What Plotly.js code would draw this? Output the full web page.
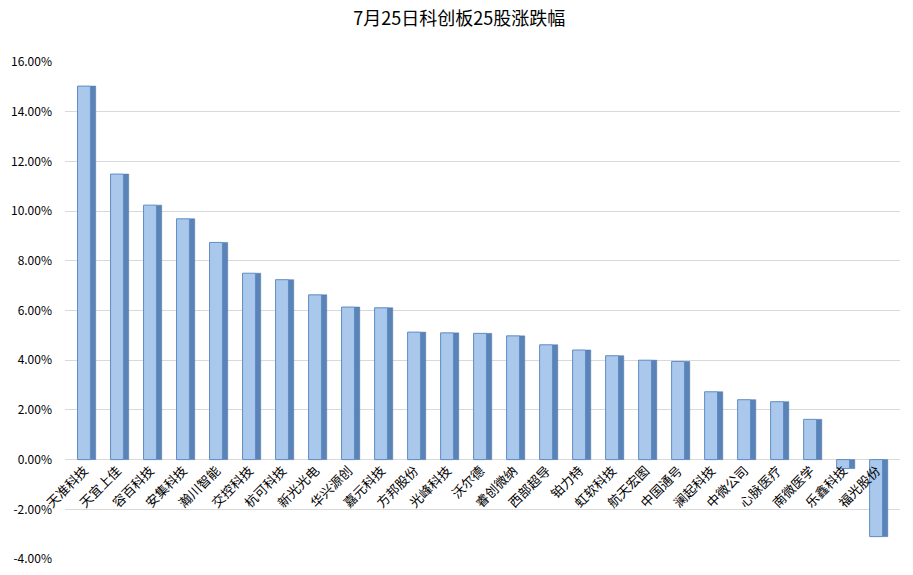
<!DOCTYPE html>
<html>
<head>
<meta charset="utf-8">
<script src="https://cdn.plot.ly/plotly-3.0.1.min.js"></script>
<style>html,body{margin:0;padding:0;background:#fff;}#chart{width:913px;height:575px;}</style>
</head>
<body>
<div id="chart"></div>
<script>
const categories = ["天准科技","天宜上佳","容百科技","安集科技","瀚川智能","交控科技","杭可科技","新光光电","华兴源创","嘉元科技","方邦股份","光峰科技","沃尔德","睿创微纳","西部超导","铂力特","虹软科技","航天宏图","中国通号","澜起科技","中微公司","心脉医疗","南微医学","乐鑫科技","福光股份"];
const changePct = [15.03,11.49,10.24,9.69,8.74,7.50,7.24,6.63,6.14,6.11,5.13,5.10,5.08,4.98,4.62,4.41,4.18,4.00,3.95,2.73,2.41,2.33,1.62,-0.36,-3.10];
const yTicks = [-4,-2,0,2,4,6,8,10,12,14,16];
const yTickText = yTicks.map(v => v.toFixed(2) + "%");

const font = "'Noto Sans CJK SC', 'Noto Sans', sans-serif";

const side = {
  type: "bar", x: categories, y: changePct,
  offset: 0.18, width: 0.16,
  marker: {color: "#5a84b8", line: {color: "#4a73a5", width: 0.5}},
  hoverinfo: "skip", showlegend: false
};
const front = {
  type: "bar", x: categories, y: changePct,
  offset: -0.21, width: 0.39,
  marker: {color: "#a9c8ec", line: {color: "#5f8cc4", width: 1}},
  showlegend: false
};

const layout = {
  width: 913, height: 575,
  margin: {l: 65, r: 13, t: 62, b: 16},
  paper_bgcolor: "#fff", plot_bgcolor: "#fff",
  barmode: "overlay",
  title: {text: "7月25日科创板25股涨跌幅", x: 0.503, xanchor: "center", y: 0.968, yanchor: "middle",
          font: {family: font, size: 18, color: "#000"}},
  font: {family: font, color: "#000"},
  xaxis: {
    range: [-0.59, 24.71], anchor: "free", position: 0.2,
    showline: false, showgrid: false, zeroline: false, ticks: "",
    tickangle: -45, tickfont: {family: font, size: 13, color: "#000"},
    fixedrange: true
  },
  yaxis: {
    range: [-4, 16], tickvals: yTicks, ticktext: yTickText,
    showgrid: true, gridcolor: "#d9d9d9", gridwidth: 1,
    zeroline: false, showline: false, ticks: "",
    ticklabelstandoff: 12,
    tickfont: {family: font, size: 12, color: "#000"},
    fixedrange: true
  }
};

Plotly.newPlot("chart", [side, front], layout, {displayModeBar: false, staticPlot: true});
</script>
</body>
</html>
